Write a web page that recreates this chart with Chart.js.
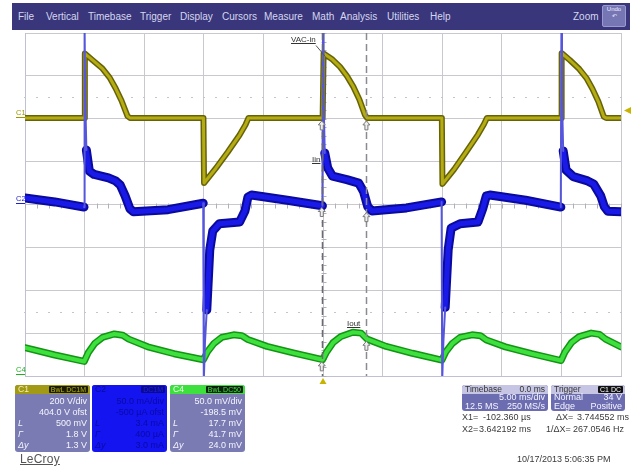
<!DOCTYPE html>
<html>
<head>
<meta charset="utf-8">
<script src="https://cdn.jsdelivr.net/npm/chart.js@4.4.1/dist/chart.umd.min.js"></script>
<style>
html,body{margin:0;padding:0;background:#fff;}
#wrap{position:relative;width:635px;height:469px;overflow:hidden;font-family:"Liberation Sans",Arial,sans-serif;}
#wrap canvas{position:absolute;left:0;top:0;}
.abs{position:absolute;white-space:nowrap;}
#menu{left:12px;top:3px;width:618px;height:27px;background:#39367c;}
.mi{position:absolute;top:8px;font-size:10px;line-height:11px;color:#d6d6ee;}
#undo{left:602px;top:5px;width:22px;height:20px;background:#7676b4;border:1px solid #9a9ad0;border-radius:2px;color:#eef;font-size:6px;line-height:7px;text-align:center;}
.panel{position:absolute;border-radius:3px;overflow:hidden;font-size:9px;}
.ph{position:absolute;left:0;top:0;right:0;height:9px;line-height:9px;padding-left:3px;font-size:8.5px;}
.badge{position:absolute;top:1px;right:2px;height:7px;line-height:7px;font-size:7px;padding:0 2px;border-radius:1px;}
.row{position:absolute;left:0;right:0;height:11px;line-height:11px;}
.row .v{position:absolute;right:3px;}
.row .s{position:absolute;left:3px;font-style:italic;}
.lbl{position:absolute;font-size:8px;line-height:8px;white-space:nowrap;}
.chl{position:absolute;font-size:7.5px;line-height:8px;width:9px;}
.cur{position:absolute;font-size:9px;color:#3a3a3a;white-space:nowrap;}
</style>
</head>
<body>
<div id="wrap">
<canvas id="c" width="635" height="469"></canvas>
<div id="menu" class="abs"></div>
<div id="undo" class="abs">Undo<br>&#8630;</div>
<div class="abs" style="left:573px;top:11px;font-size:10px;color:#d6d6ee;">Zoom</div>
<div id="overlay"></div>
</div>
<script>
// ---------- data (time in ms, amplitude in divisions) ----------
const menuItems = ["File","Vertical","Timebase","Trigger","Display","Cursors","Measure","Math","Analysis","Utilities","Help"];

// C1 : VAC-in
const c1Time = [-25, -20.03, -19.98, -19.3, -18.5, -17.9, -17.4, -16.9, -16.4, -16.2,
  -10.03, -9.98, -9.0, -8.0, -7.0, -6.5, -6.25,
  -0.03, 0.05, 0.8, 1.43, 2.0, 2.54, 3.05, 3.52, 3.7,
  9.97, 10.02, 11.0, 12.0, 13.0, 13.5, 13.75,
  19.97, 20.02, 20.7, 21.5, 22.1, 22.6, 23.1, 23.55, 23.75, 25];
const c1Div = [2.02, 2.02, 3.52, 3.36, 3.17, 2.96, 2.71, 2.42, 2.06, 2.02,
  2.02, 0.5, 0.84, 1.22, 1.62, 1.86, 2.02,
  2.02, 3.52, 3.38, 3.21, 3.0, 2.75, 2.45, 2.09, 2.02,
  2.02, 0.48, 0.82, 1.22, 1.63, 1.87, 2.02,
  2.02, 3.53, 3.37, 3.16, 2.95, 2.7, 2.4, 2.05, 2.02, 2.02];

// C2 : Iin (noisy band, gaps at the fast edges)
const c2Time = [-25, -22.5, -20.05, -20.05,
  -19.85, -19.6, -19.2, -18.0, -17.4, -17.0, -16.6, -16.2, -15.9, -13.0, -10.05, -10.05,
  -9.75, -9.5, -9.25, -8.7, -7.0, -6.55, -6.3, -6.0, -3.0, -0.05, -0.05,
  0.15, 0.4, 0.8, 2.0, 3.0, 3.4, 3.75, 4.1, 7.0, 9.95, 9.95,
  10.25, 10.5, 10.75, 11.5, 13.0, 13.4, 13.7, 14.0, 17.0, 19.95, 19.95,
  20.15, 20.4, 21.0, 22.2, 22.7, 23.3, 23.6, 23.9, 25];
const c2Div = [0.15, 0.06, -0.06, null,
  1.27, 0.78, 0.7, 0.62, 0.55, 0.45, 0.2, -0.1, -0.17, -0.12, 0.03, null,
  -2.46, -1.06, -0.62, -0.45, -0.41, -0.15, 0.17, 0.22, 0.1, -0.03, null,
  1.2, 0.85, 0.66, 0.58, 0.5, 0.3, -0.05, -0.15, -0.08, 0.06, null,
  -2.4, -1.06, -0.55, -0.45, -0.41, -0.1, 0.2, 0.22, 0.1, -0.06, null,
  1.25, 0.8, 0.65, 0.55, 0.48, 0.2, -0.05, -0.16, -0.17];

// C2 : fast edges (thin spikes)
const c2EdgeTime = [-20.05, -20.0, -19.95, -19.85, -19.85,
  -10.05, -10.0, -9.9, -9.75, -9.75,
  -0.05, 0.0, 0.05, 0.15, 0.15,
  9.95, 10.0, 10.1, 10.25, 10.25,
  19.95, 20.0, 20.05, 20.15];
const c2EdgeDiv = [-0.06, 4.1, 2.5, 1.27, null,
  0.03, -4.1, -3.2, -2.46, null,
  -0.03, 4.1, 2.4, 1.2, null,
  0.06, -4.1, -3.2, -2.4, null,
  -0.06, 4.1, 2.5, 1.25];

// C4 : Iout
const c4Time = [-25, -22.5, -20.03, -19.7, -19.15, -18.5, -17.5, -16.8, -16.3, -14.7, -12.5,
  -10.03, -9.7, -9.15, -8.5, -7.5, -6.8, -6.3, -4.7, -2.5,
  -0.03, 0.3, 0.85, 1.5, 2.5, 3.2, 3.7, 5.3, 7.5,
  9.97, 10.3, 10.85, 11.5, 12.5, 13.2, 13.7, 15.3, 17.5,
  19.97, 20.3, 20.85, 21.5, 22.5, 23.2, 23.7, 25];
const c4Div = [-3.34, -3.51, -3.66, -3.46, -3.24, -3.1, -3.02, -3.05, -3.14, -3.32, -3.48,
  -3.62, -3.44, -3.24, -3.1, -3.04, -3.06, -3.15, -3.31, -3.46,
  -3.62, -3.44, -3.22, -3.08, -2.98, -3.0, -3.14, -3.31, -3.47,
  -3.63, -3.44, -3.24, -3.1, -3.04, -3.06, -3.16, -3.32, -3.48,
  -3.64, -3.44, -3.22, -3.08, -3.0, -3.03, -3.14, -3.32];

const cursorTimes = [-0.10236, 3.642192];
const triggerLevel = 2.19;                       // 34 V on C1
const c1Rows = ["200 V/div","404.0 V ofst","500 mV","1.8 V","1.3 V"];
const c2Rows = ["50.0 mA/div","-500 µA ofst","3.4 mA","400 µA","3.0 mA"];
const c4Rows = ["50.0 mV/div","-198.5 mV","17.7 mV","41.7 mV","24.0 mV"];
const rowSyms = ["","","L","Γ","Δy"];

// ---------- menu ----------
const menuLeft = [6, 34, 76, 128, 168, 210, 252, 300, 328, 375, 418];
const menu = document.getElementById('menu');
menuItems.forEach((m,i)=>{const d=document.createElement('div');d.className='mi';d.style.left=menuLeft[i]+'px';d.textContent=m;menu.appendChild(d);});

// ---------- overlays ----------
const ov = document.getElementById('overlay');
function add(html){ov.insertAdjacentHTML('beforeend', html);}
function panel(left, bg, hbg, hcol, name, bbg, bcol, badge, rows, tcol){
  let h = `<div class="panel" style="left:${left}px;top:385px;width:75px;height:67px;background:${bg};">`+
    `<div class="ph" style="background:${hbg};color:${hcol}">${name}</div>`+
    `<div class="badge" style="background:${bbg};color:${bcol}">${badge}</div>`;
  rows.forEach((r,i)=>{h+=`<div class="row" style="top:${11+i*11}px;color:${tcol}"><span class="s">${rowSyms[i]}</span><span class="v">${r}</span></div>`;});
  return h+'</div>';
}
add(panel(15,'#7b7bb3','#a29a14','#f2f0b0','C1','#1c1c00','#b8b020','BwL DC1M',c1Rows,'#f4f4ff'));
add(panel(92,'#1414f0','#1414f0','#0a0a9a','C2','#0a0a90','#2020e0','DC1M',c2Rows,'#0a0aa6'));
add(panel(170,'#7b7bb3','#3ee03e','#f0fff0','C4','#0e200e','#40e040','BwL DC50',c4Rows,'#f4f4ff'));

add(`<div class="panel" style="left:462px;top:385px;width:86px;height:26px;background:#6c6cb0;color:#f4f4ff;">
<div class="ph" style="background:#c6c6e4;color:#333">Timebase<span style="position:absolute;right:3px">0.0 ms</span></div>
<div class="row" style="top:8px;height:9px;line-height:9px"><span class="v">5.00 ms/div</span></div>
<div class="row" style="top:17px;height:9px;line-height:9px"><span style="position:absolute;left:3px">12.5 MS</span><span class="v">250 MS/s</span></div></div>`);
add(`<div class="panel" style="left:551px;top:385px;width:74px;height:26px;background:#6c6cb0;color:#f4f4ff;">
<div class="ph" style="background:#c6c6e4;color:#333">Trigger</div><div class="badge" style="background:#111;color:#fff">C1 DC</div>
<div class="row" style="top:8px;height:9px;line-height:9px"><span style="position:absolute;left:3px">Normal</span><span class="v">34 V</span></div>
<div class="row" style="top:17px;height:9px;line-height:9px"><span style="position:absolute;left:3px">Edge</span><span class="v">Positive</span></div></div>`);

add(`<div class="cur" style="left:462px;top:412px">X1=</div><div class="cur" style="left:483px;top:412px">-102.360 µs</div>
<div class="cur" style="left:556px;top:412px">ΔX=</div><div class="cur" style="left:577px;top:412px">3.744552 ms</div>
<div class="cur" style="left:462px;top:424px">X2=</div><div class="cur" style="left:479px;top:424px">3.642192 ms</div>
<div class="cur" style="left:546px;top:424px">1/ΔX=</div><div class="cur" style="left:573px;top:424px">267.0546 Hz</div>
<div class="cur" style="left:517px;top:454px">10/17/2013 5:06:35 PM</div>
<div class="abs" style="left:20px;top:452px;font-size:12px;color:#555;text-decoration:underline;letter-spacing:0.2px">LeCroy</div>
<div class="lbl" style="left:291px;top:36px;color:#333;text-decoration:underline">VAC-in</div>
<div class="lbl" style="left:312px;top:156px;color:#333;text-decoration:underline">Iin</div>
<div class="lbl" style="left:347px;top:320px;color:#333;text-decoration:underline">Iout</div>
<div class="chl" style="left:16px;top:109px;color:#9c9400;border-bottom:1px solid #9c9400">C1</div>
<div class="chl" style="left:16px;top:195px;color:#2020d0;border-bottom:1px solid #2020d0">C2</div>
<div class="chl" style="left:16px;top:366px;color:#20b020;border-bottom:1px solid #20b020">C4</div>`);

// ---------- chart ----------
function pts(t, v){ return t.map((x,i)=>({x:x, y:v[i]})); }
function ds(t, v, color, width, order){
  return {data: pts(t,v), showLine:true, borderColor:color, borderWidth:width, pointRadius:0,
          tension:0, spanGaps:false, order:order, borderJoinStyle:'round', borderCapStyle:'round'};
}

const extras = {
  id:'extras',
  beforeDatasetsDraw(c){
    const {ctx, scales:{x,y}} = c;
    ctx.save();
    ctx.strokeStyle='#b0b0b8'; ctx.lineWidth=1;
    const cx = Math.round(x.getPixelForValue(0))+0.5, cy = Math.round(y.getPixelForValue(0))+0.5;
    ctx.beginPath();
    for (let v=-4; v<=4.001; v+=0.2){ const py=Math.round(y.getPixelForValue(v))+0.5; ctx.moveTo(cx-2,py); ctx.lineTo(cx+3,py);}
    for (let v=-25; v<=25.001; v+=1){ const px=Math.round(x.getPixelForValue(v))+0.5; ctx.moveTo(px,cy-2); ctx.lineTo(px,cy+3);}
    ctx.stroke();
    ctx.strokeStyle='#c4c4cc';
    ctx.beginPath();
    [2.5,-2.5].forEach(lv=>{
      const py=Math.round(y.getPixelForValue(lv))+0.5;
      for (let v=-25; v<=25.001; v+=1){ const px=Math.round(x.getPixelForValue(v)); ctx.moveTo(px-1,py); ctx.lineTo(px+1,py);}
    });
    ctx.stroke();
    ctx.restore();
  },
  afterDatasetsDraw(c){
    const {ctx, chartArea:a, scales:{x,y}} = c;
    ctx.save();
    ctx.beginPath(); ctx.rect(a.left,a.top,a.right-a.left,a.bottom-a.top); ctx.clip();
    ctx.setLineDash([7,4]);
    cursorTimes.forEach((t,i)=>{
      const px = Math.round(x.getPixelForValue(t))+0.5;
      ctx.strokeStyle = i===0 ? '#6a6a70' : '#8a8a90';
      ctx.lineWidth = 1.5;
      ctx.beginPath(); ctx.moveTo(px,a.top); ctx.lineTo(px,a.bottom); ctx.stroke();
    });
    ctx.setLineDash([]);
    const mk = [[cursorTimes[0],2.02],[cursorTimes[1],2.02],[cursorTimes[0],0],[cursorTimes[1],-0.12],[cursorTimes[0],-3.6],[cursorTimes[1],-3.12]];
    mk.forEach(([t,v])=>{
      const px=x.getPixelForValue(t), py=y.getPixelForValue(v)+3;
      ctx.fillStyle='#eeeeee'; ctx.strokeStyle='#7a7a7a'; ctx.lineWidth=1;
      ctx.beginPath(); ctx.moveTo(px,py); ctx.lineTo(px+3.5,py+4); ctx.lineTo(px+1.5,py+4); ctx.lineTo(px+1.5,py+9);
      ctx.lineTo(px-1.5,py+9); ctx.lineTo(px-1.5,py+4); ctx.lineTo(px-3.5,py+4); ctx.closePath(); ctx.fill(); ctx.stroke();
    });
    ctx.strokeStyle='#555'; ctx.lineWidth=1;
    ctx.beginPath(); ctx.moveTo(316,45.5); ctx.lineTo(x.getPixelForValue(0.2), y.getPixelForValue(3.45)); ctx.stroke();
    ctx.restore();
  },
  afterDraw(c){
    const {ctx, chartArea:a, scales:{x,y}} = c;
    ctx.save();
    ctx.fillStyle='#c8b400';
    const tx = x.getPixelForValue(0);
    ctx.beginPath(); ctx.moveTo(tx,a.bottom+2); ctx.lineTo(tx+3.5,a.bottom+8); ctx.lineTo(tx-3.5,a.bottom+8); ctx.closePath(); ctx.fill();
    const ty = y.getPixelForValue(triggerLevel);
    ctx.beginPath(); ctx.moveTo(a.right+3,ty); ctx.lineTo(a.right+10,ty-3.5); ctx.lineTo(a.right+10,ty+3.5); ctx.closePath(); ctx.fill();
    ctx.restore();
  }
};

new Chart(document.getElementById('c'), {
  type:'scatter',
  data:{ datasets:[
    ds(c2EdgeTime, c2EdgeDiv, '#5656dc', 2, 0),
    ds(c2Time, c2Div, '#1a1ae8', 5, 1),
    ds(c2Time, c2Div, '#0a0a9c', 9, 2),
    ds(c4Time, c4Div, '#3ee03e', 4, 3),
    ds(c4Time, c4Div, '#149414', 7, 4),
    ds(c1Time, c1Div, '#b4ac12', 3, 5),
    ds(c1Time, c1Div, '#66620a', 6, 6)
  ]},
  options:{
    responsive:false, animation:false, events:[],
    layout:{padding:{left:25, right:14, top:33, bottom:93}},
    plugins:{legend:{display:false}, tooltip:{enabled:false}},
    scales:{
      x:{type:'linear', min:-25, max:25, ticks:{display:false, stepSize:5}, grid:{color:'#c8c8ce', drawTicks:false, lineWidth:1}, border:{display:true, color:'#c0c0d4'}},
      y:{type:'linear', min:-4, max:4, ticks:{display:false, stepSize:1}, grid:{color:'#c8c8ce', drawTicks:false, lineWidth:1}, border:{display:true, color:'#c0c0d4'}}
    }
  },
  plugins:[extras]
});
</script>
</body>
</html>
